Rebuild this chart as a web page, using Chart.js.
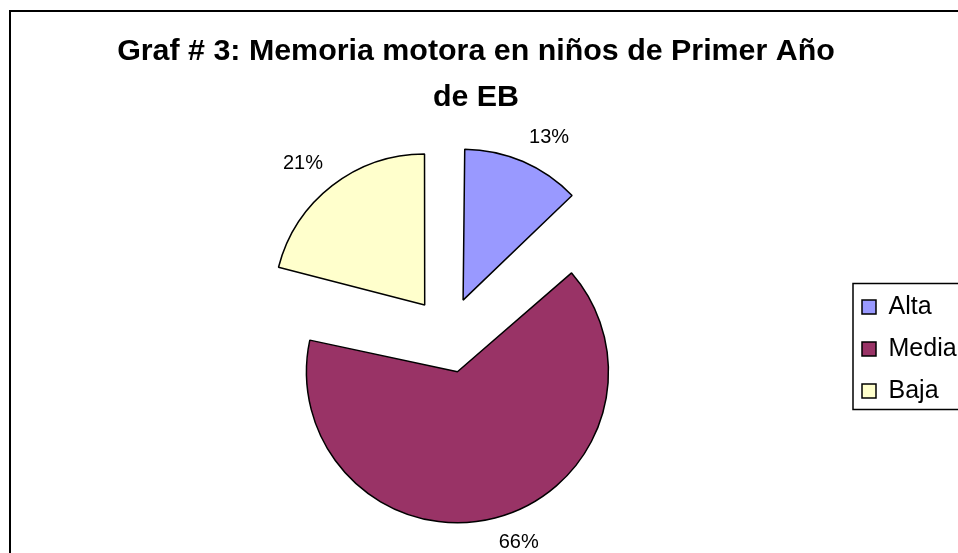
<!DOCTYPE html>
<html lang="es">
<head>
<meta charset="UTF-8">
<title>Memoria motora</title>
<script src="https://cdn.jsdelivr.net/npm/chart.js@4"></script>
<style>
  body { margin: 0; background: #fff; overflow: hidden; }
  .wrap { width: 958px; height: 553px; position: relative; }
</style>
</head>
<body>
<div class="wrap"><canvas id="grafico"></canvas></div>
<script>
  /*** DATOS ***/
  const categorias = ['Alta', 'Media', 'Baja'];
  const porcentajes = [13, 66, 21];
  const colores = ['#9999FF', '#993366', '#FFFFCC'];
  const titulo = ['Graf # 3: Memoria motora en niños de Primer Año', 'de EB'];

  const FUENTE = '"Liberation Sans", Arial, sans-serif';
  const RADIO = 151;      // radio del pastel
  const SEPARACION = 38;  // cuanto se separa cada porción

  // Chart.js mueve la porción offset/4 px y agranda el radio; se corrige aquí
  const corregirRadio = {
    id: 'corregirRadio',
    afterDatasetUpdate(chart, args) {
      args.meta.data.forEach(arc => {
        const circ = arc.endAngle - arc.startAngle;
        const fix = 1 - Math.sin(Math.min(Math.PI, circ));
        arc.outerRadius = RADIO - SEPARACION * fix;
      });
    }
  };

  // título, marco exterior, recuadro de la leyenda y etiquetas de porcentaje
  const adornos = {
    id: 'adornos',
    afterDraw(chart) {
      const ctx = chart.ctx;
      ctx.save();
      ctx.strokeStyle = '#000';
      ctx.lineWidth = 2;
      ctx.strokeRect(10, 11, chart.width + 20, chart.height + 20);

      // título (centrado sobre todo el gráfico, no sólo sobre el pastel)
      ctx.fillStyle = '#000';
      ctx.font = 'bold 30.4px ' + FUENTE;
      ctx.textAlign = 'center';
      ctx.textBaseline = 'middle';
      titulo.forEach((linea, i) => ctx.fillText(linea, 476, 52 + i * 46));

      const hb = chart.legend.legendHitBoxes;
      if (hb.length) {
        const top = hb[0].top - 11;
        const bottom = hb[hb.length - 1].top + hb[hb.length - 1].height + 6;
        ctx.lineWidth = 1.5;
        ctx.strokeRect(hb[0].left - 9, top, chart.width, bottom - top);
      }

      ctx.font = '20px ' + FUENTE;
      chart.getDatasetMeta(0).data.forEach((arc, i) => {
        const mid = (arc.startAngle + arc.endAngle) / 2;
        const c = Math.cos(mid), s = Math.sin(mid);
        const r = SEPARACION + RADIO + 15;
        ctx.textAlign = c >= 0 ? 'left' : 'right';
        ctx.textBaseline = s < 0 ? 'bottom' : 'top';
        ctx.fillText(porcentajes[i] + '%', arc.x + c * r, arc.y + s * r);
      });
      ctx.restore();
    }
  };

  new Chart(document.getElementById('grafico'), {
    type: 'pie',
    data: {
      labels: categorias,
      datasets: [{
        data: porcentajes,
        backgroundColor: colores,
        borderColor: '#000',
        borderWidth: 1.5,
        offset: SEPARACION * 4,
        radius: RADIO
      }]
    },
    options: {
      responsive: true,
      maintainAspectRatio: false,
      animation: false,
      events: [],
      layout: { padding: { left: 51, right: 0, top: 121, bottom: 4 } },
      plugins: {
        title: { display: false },
        legend: {
          position: 'right',
          fullSize: false,
          maxWidth: 113,
          title: { display: true, text: '', font: { size: 10, lineHeight: 1 }, padding: { top: 18, bottom: 0 } },
          labels: {
            color: '#000',
            font: { family: FUENTE, size: 25 },
            boxWidth: 14,
            boxHeight: 14,
            padding: 17
          }
        },
        tooltip: { enabled: false }
      }
    },
    plugins: [corregirRadio, adornos]
  });
</script>
</body>
</html>
